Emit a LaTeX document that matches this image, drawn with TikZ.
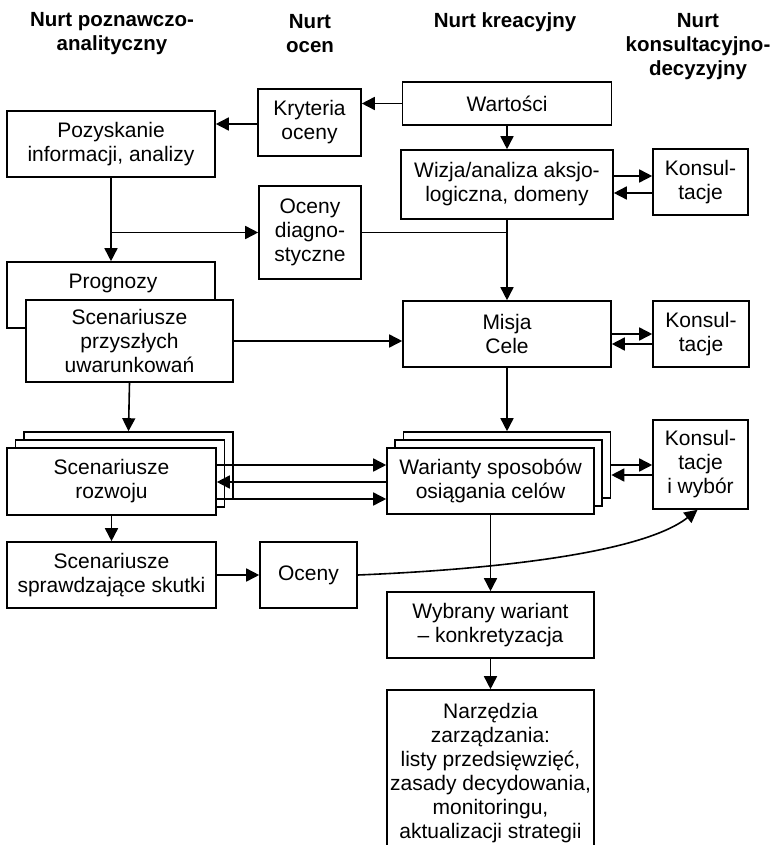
\documentclass[tikz,border=0pt]{standalone}
\usepackage{fontspec}
\setmainfont{Liberation Sans}
\usetikzlibrary{arrows.meta,calc}
\begin{document}
\begin{tikzpicture}[x=1pt,y=-1pt,
  box/.style={draw,line width=1.6pt,fill=white,align=center,inner sep=0pt,
    font=\fontsize{21}{24}\selectfont},
  head/.style={align=center,font=\fontsize{20.5}{24}\selectfont\bfseries},
  arr/.style={line width=1.6pt,-{Triangle[length=13pt,width=13pt]}},
  ln/.style={line width=1.6pt}]
\useasboundingbox (0,0) rectangle (778,845);
\clip (0,0) rectangle (778,845);
% headers
\node[head] (h1) at (112,34) {Nurt poznawczo-\\analityczny};
\node[head] (h2) at (310,34) {Nurt\\ocen};
\node[head] (h3) at (505,22) {Nurt kreacyjny};
\node[head] (h4) at (698,47) {Nurt\\konsultacyjno-\\decyzyjny};
% boxes
\node[box,minimum width=103pt,minimum height=67pt] (kryt) at (309.5,122.5) {Kryteria\\oceny};
\node[box,minimum width=208pt,minimum height=66pt] (poz) at (111,144) {Pozyskanie\\informacji, analizy};
\node[box,minimum width=209pt,minimum height=43pt] (wart) at (507,103.5) {Wartości};
\node[box,minimum width=212pt,minimum height=69pt] (wiz) at (507,184.5) {Wizja/analiza aksjo-\\logiczna, domeny};
\node[box,minimum width=95pt,minimum height=66pt] (kons1) at (700.5,182) {Konsul-\\tacje};
\node[box,minimum width=102pt,minimum height=93pt] (ocd) at (310,232.5) {Oceny\\diagno-\\styczne};
\node[box,minimum width=208pt,minimum height=66pt] (prog) at (111,295) {};
\node[font=\fontsize{21}{24}\selectfont] (progt) at (113,283) {Prognozy};
\node[box,minimum width=207pt,minimum height=82pt] (scp) at (129.5,341) {Scenariusze\\przyszłych\\uwarunkowań};
% stack scenariusze rozwoju
\node[box,minimum width=209pt,minimum height=67pt] (scr3) at (128.5,465.5) {};
\node[box,minimum width=209pt,minimum height=67pt] (scr2) at (120,473.5) {};
\node[box,minimum width=209pt,minimum height=67pt] (scr) at (111.5,481.5) {Scenariusze\\rozwoju};
\node[box,minimum width=208pt,minimum height=66pt] (misja) at (507,334) {Misja\\Cele};
\node[box,minimum width=96pt,minimum height=66pt] (kons2) at (701,334) {Konsul-\\tacje};
% stack warianty
\node[box,minimum width=207pt,minimum height=66pt] (war3) at (507,465) {};
\node[box,minimum width=207pt,minimum height=66pt] (war2) at (498.5,473) {};
\node[box,minimum width=207pt,minimum height=66pt] (war) at (490.5,481) {Warianty sposobów\\osiągania celów};
\node[box,minimum width=95pt,minimum height=89pt] (konsw) at (700.5,464.5) {Konsul-\\tacje\\i wybór};
\node[box,minimum width=209pt,minimum height=66pt] (scs) at (111.5,575) {Scenariusze\\sprawdzające skutki};
\node[box,minimum width=97pt,minimum height=66pt] (oc) at (308.5,575) {Oceny};
\node[box,minimum width=207pt,minimum height=66pt] (wyb) at (490.5,625) {Wybrany wariant\\– konkretyzacja};
\node[box,minimum width=207pt,minimum height=166pt] (narz) at (490.5,773) {Narzędzia\\zarządzania:\\listy przedsięwzięć,\\zasady decydowania,\\monitoringu,\\aktualizacji strategii};
% connectors
\draw[arr] (wart.west) -- (kryt.east |- wart.west);
\draw[arr] (kryt.west |- 0,124) -- (poz.east |- 0,124);
\draw[arr] (wart.south) -- (wiz.north);
\draw[arr] (wiz.east |- 0,176) -- (kons1.west |- 0,176);
\draw[arr] (kons1.west |- 0,193) -- (wiz.east |- 0,193);
\draw[arr] (poz.south) -- (prog.north);
\draw[arr] (poz.south |- ocd.west) -- (ocd.west);
\draw[ln] (ocd.east) -- (misja.north |- ocd.east);
\draw[arr] (wiz.south) -- (misja.north);
\draw[arr] (scp.east) -- (misja.west |- scp.east);
\draw[arr] (misja.east |- 0,334) -- (kons2.west |- 0,334);
\draw[arr] (kons2.west |- 0,344) -- (misja.east |- 0,344);
\draw[arr] (scp.south) -- (scr3.north);
\draw[arr] (scr.east |- 0,465) -- (war.west |- 0,465);
\draw[arr] (war.west |- 0,482) -- (scr.east |- 0,482);
\draw[arr] (scr.east |- 0,499) -- (war.west |- 0,499);
\draw[arr] (misja.south) -- (war3.north);
\draw[arr] (war3.east |- 0,465) -- (konsw.west |- 0,465);
\draw[arr] (konsw.west |- 0,475) -- (war3.east |- 0,475);
\draw[arr] (scr.south) -- (scs.north);
\draw[arr] (scs.east) -- (oc.west);
\draw[arr] (oc.east) .. controls (480,570) and (640,555) .. ([xshift=-3pt]konsw.south);
\draw[arr] (war.south) -- (wyb.north);
\draw[arr] (wyb.south) -- (narz.north);
\end{tikzpicture}
\end{document}
